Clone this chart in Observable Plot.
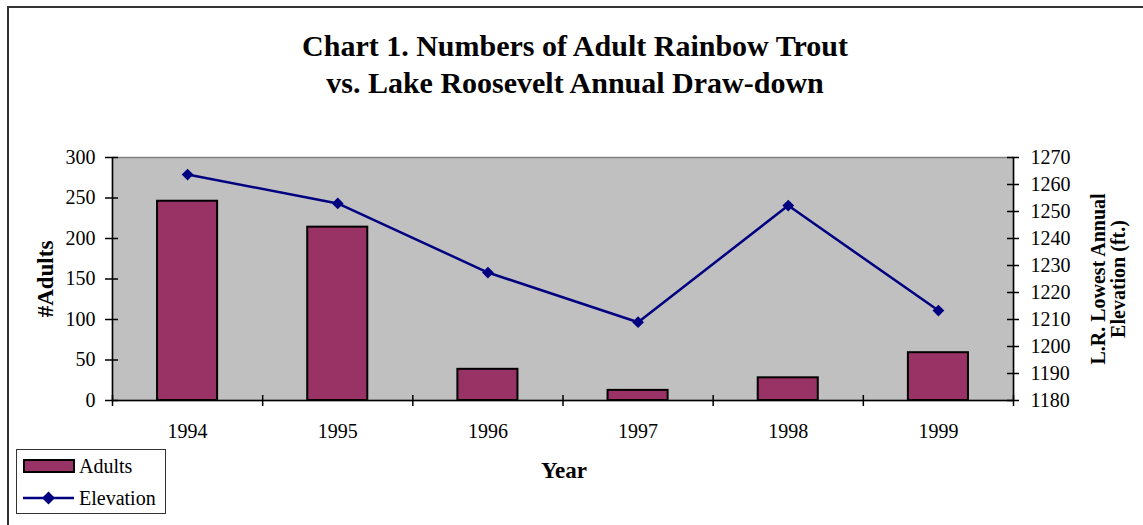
<!DOCTYPE html>
<html>
<head>
<meta charset="utf-8">
<script src="https://cdn.jsdelivr.net/npm/d3@7"></script>
<script src="https://cdn.jsdelivr.net/npm/@observablehq/plot@0.6"></script>
<style>
  html, body { margin: 0; padding: 0; background: white; }
  #wrap { position: relative; width: 1143px; height: 525px; overflow: hidden; font-family: "Liberation Serif", "Times New Roman", serif; }
  #wrap, #wrap * { font-family: "Liberation Serif", "Times New Roman", serif !important; }
  #frame { position: absolute; left: 7px; top: 6px; width: 1200px; height: 600px; border-left: 2px solid #333; border-top: 2px solid #333; }
  #title { position: absolute; left: 7px; right: 0; top: 27px; text-align: center; font-weight: bold; font-size: 30px; line-height: 37px; color: black; }
  #chart { position: absolute; left: 0; top: 0; }
  #legend { position: absolute; left: 16px; top: 449px; width: 148px; height: 63px; border: 1px solid #333; background: white; font-size: 20px; }
  .leg-row { position: absolute; left: 0; height: 24px; display: flex; align-items: center; }
</style>
</head>
<body>
<div id="wrap">
  <div id="frame"></div>
  <div id="chart"></div>
  <div id="title">Chart 1. Numbers of Adult Rainbow Trout<br>vs. Lake Roosevelt Annual Draw-down</div>
  <div id="legend">
    <div class="leg-row" style="top:4px"><svg width="62" height="24"><rect x="7" y="6" width="50" height="12" fill="#993366" stroke="black" stroke-width="2"/></svg><span>Adults</span></div>
    <div class="leg-row" style="top:36px"><svg width="62" height="24"><line x1="6" x2="57" y1="12" y2="12" stroke="#000080" stroke-width="2.5"/><path d="M31.5,5.5L38,12L31.5,18.5L25,12Z" fill="#000080"/></svg><span>Elevation</span></div>
  </div>
</div>
<script>
const years = ["1994", "1995", "1996", "1997", "1998", "1999"];
const adults = [246, 214, 38.5, 12.5, 28, 59];
const elevation = [1263.7, 1253, 1227.4, 1209, 1252.2, 1213.3];
const leftTicks = [0, 50, 100, 150, 200, 250, 300];
const rightTicks = [1180, 1190, 1200, 1210, 1220, 1230, 1240, 1250, 1260, 1270];

// map elevation (right axis 1180–1270) onto the left scale (0–300)
const eMin = 1180, eMax = 1270, aMax = 300;
const toLeft = e => (e - eMin) * aMax / (eMax - eMin);
const fromLeft = v => v * (eMax - eMin) / aMax + eMin;

const data = years.map((y, i) => ({i, year: y, adults: adults[i], elev: elevation[i]}));

const W = 1143, H = 525, mL = 112, mR = 130, mT = 157, mB = 125;
const pw = W - mL - mR, ph = H - mT - mB;

const chart = Plot.plot({
  width: W, height: H,
  marginLeft: mL, marginRight: mR, marginTop: mT, marginBottom: mB,
  style: {fontFamily: "Liberation Serif, Times New Roman, serif", fontSize: "20px", color: "black", background: "transparent", overflow: "visible"},
  x: {type: "linear", domain: [0, years.length], axis: null},
  y: {domain: [0, aMax], axis: null},
  marks: [
    Plot.frame({fill: "#C0C0C0", stroke: "#808080", strokeWidth: 1.5}),
    Plot.rectY(data, {x1: d => d.i + 0.3, x2: d => d.i + 0.7, y1: 0, y2: "adults", fill: "#993366", stroke: "black", strokeWidth: 2}),
    Plot.line(data, {x: d => d.i + 0.5, y: d => toLeft(d.elev), stroke: "#000080", strokeWidth: 2.5}),
    Plot.dot(data, {x: d => d.i + 0.5, y: d => toLeft(d.elev), symbol: "diamond2", r: 5.3, fill: "#000080", stroke: "none"}),
    Plot.ruleX([0, years.length], {stroke: "black", strokeWidth: 1.5}),
    Plot.ruleY([0], {stroke: "black", strokeWidth: 1.5}),
    Plot.tickY(leftTicks, {y: d => d, insetLeft: -7, insetRight: pw - 6, stroke: "black", strokeWidth: 1.5}),
    Plot.tickY(rightTicks, {y: d => toLeft(d), insetLeft: pw - 6, insetRight: -6, stroke: "black", strokeWidth: 1.5}),
    Plot.tickX(d3.range(years.length + 1), {x: d => d, insetTop: ph - 5, insetBottom: -6, stroke: "black", strokeWidth: 1.5}),
    Plot.axisY({anchor: "left", ticks: leftTicks, tickSize: 0, tickPadding: 17, label: null, fontSize: 20}),
    Plot.axisY({anchor: "right", ticks: rightTicks.map(toLeft), tickFormat: v => String(Math.round(fromLeft(v))), tickSize: 0, tickPadding: 17, label: null, fontSize: 20}),
    Plot.axisX({ticks: years.map((y, i) => i + 0.5), tickFormat: v => years[Math.floor(v)], tickSize: 0, tickPadding: 23, label: null, fontSize: 20}),
    Plot.text(["#Adults"], {frameAnchor: "left", dx: -67, rotate: -90, fontWeight: "bold", fontSize: 23, textAnchor: "middle", lineAnchor: "middle"}),
    Plot.text(["L.R. Lowest Annual\nElevation (ft.)"], {frameAnchor: "right", dx: 95, rotate: -90, fontWeight: "bold", fontSize: 20, textAnchor: "middle", lineAnchor: "middle", lineHeight: 1.0}),
    Plot.text(["Year"], {frameAnchor: "bottom", dy: 70, fontWeight: "bold", fontSize: 23, textAnchor: "middle", lineAnchor: "middle", dx: 1})
  ]
});
document.getElementById("chart").appendChild(chart);
</script>
</body>
</html>
